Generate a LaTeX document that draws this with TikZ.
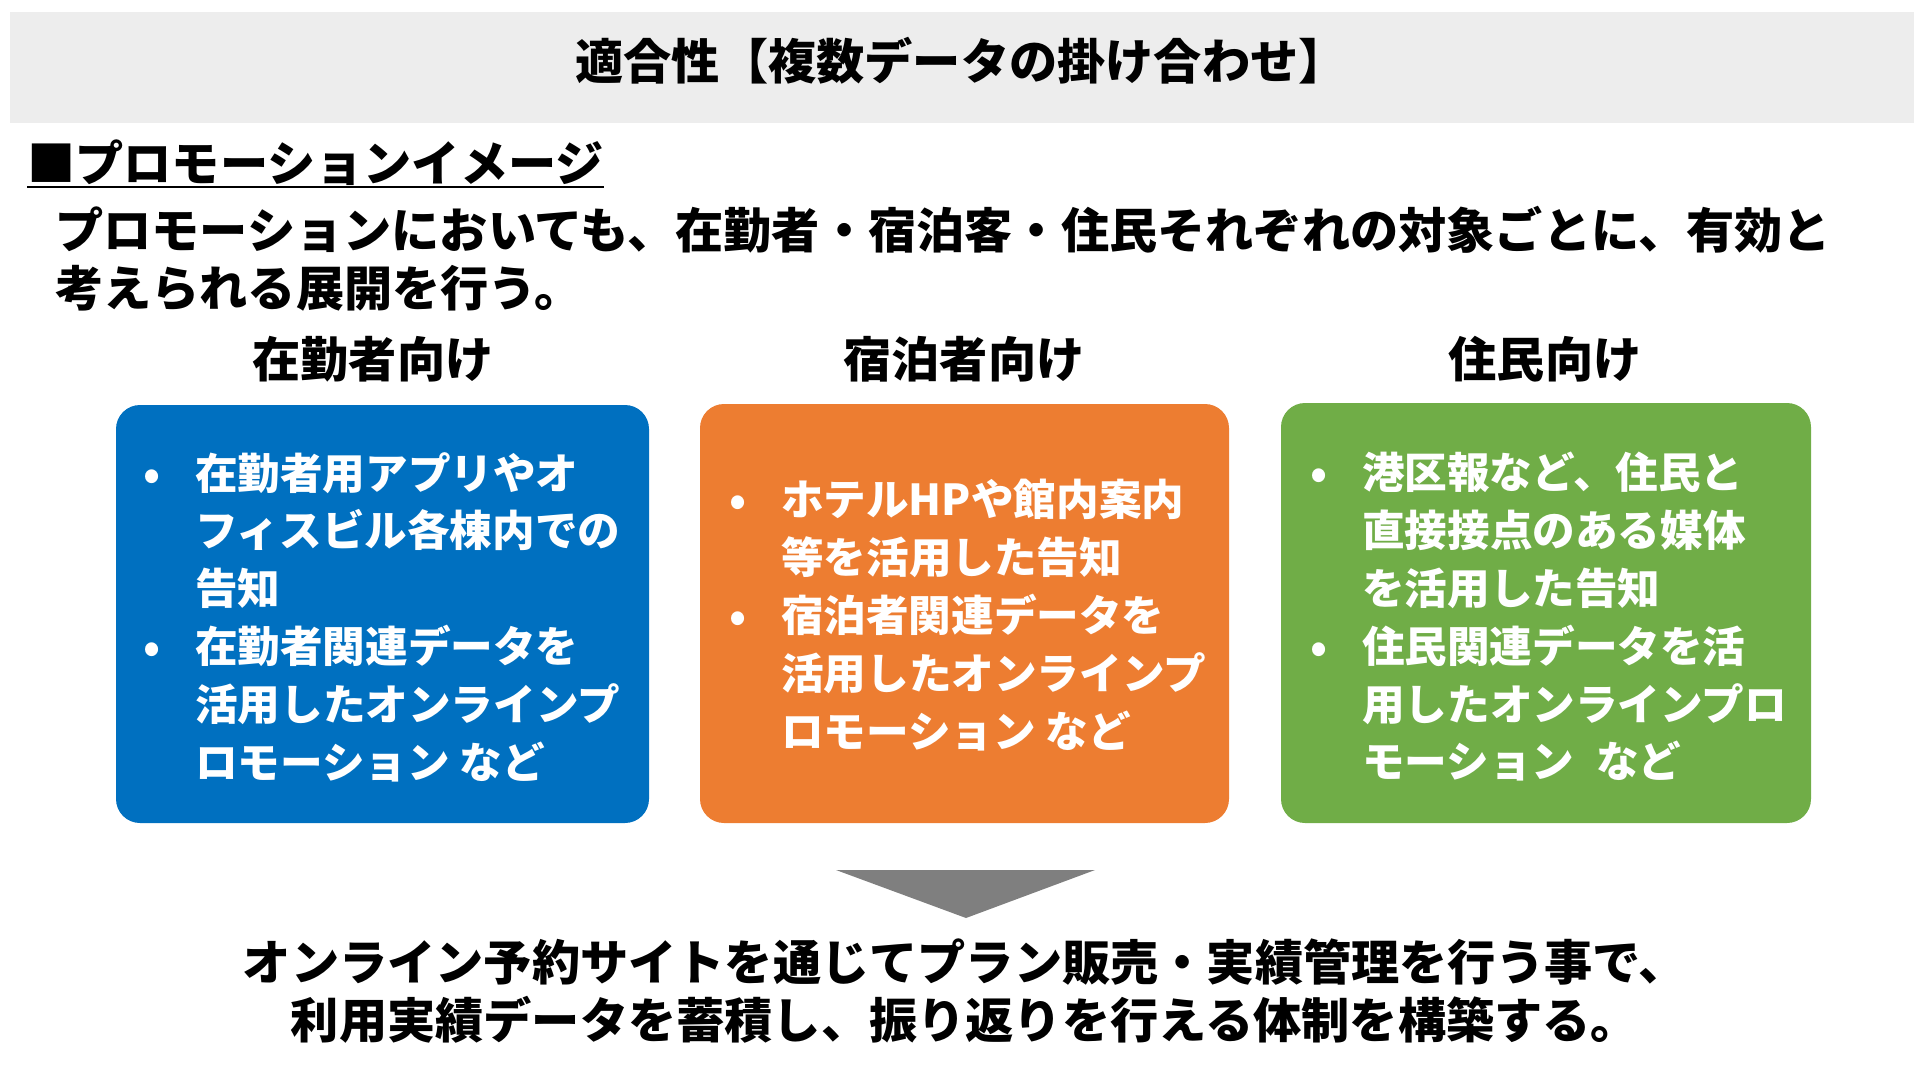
\documentclass[tikz,border=0pt]{standalone}
\usepackage{fontspec}
\setmainfont{Noto Sans CJK JP}
\definecolor{barGray}{HTML}{EDEDED}
\definecolor{boxBlue}{HTML}{0070C0}
\definecolor{boxOrange}{HTML}{ED7D31}
\definecolor{boxGreen}{HTML}{70AD47}
\definecolor{arrowGray}{HTML}{7F7F7F}
\newcommand{\bul}{\makebox[52pt][l]{•}}
\newcommand{\ind}{\hspace*{52pt}}
\tikzset{
    bigtext/.style={inner sep=0pt, font=\bfseries\fontsize{48.2}{58.5}\selectfont},
    boxtext/.style={inner sep=0pt, anchor=west, align=left, text=white, font=\bfseries\fontsize{42.6}{57.8}\selectfont},
    panel/.style={rounded corners=24pt}
}
\begin{document}
\begin{tikzpicture}[x=1pt,y=-1pt]
    \useasboundingbox (0,0) rectangle (1920,1080);
    \fill[barGray] (10,12) rectangle (1914,123);
    \node[bigtext] (title) at (961,61) {適合性【複数データの掛け合わせ】};
    \node[bigtext, anchor=west] (head) at (27,163) {■プロモーションイメージ};
    \draw[line width=2.5pt] (head.west |- 0,187) -- (head.east |- 0,187);
    \node[bigtext, anchor=west, align=left] (lead) at (55,258.5) {プロモーションにおいても、在勤者・宿泊客・住民それぞれの対象ごとに、有効と\\考えられる展開を行う。};
    \node[bigtext] (workT) at (373,359) {在勤者向け};
    \node[bigtext] (stayT) at (964,359) {宿泊者向け};
    \node[bigtext] (liveT) at (1545,359) {住民向け};
    \fill[panel, boxBlue] (116,405) rectangle (649,823);
    \fill[panel, boxOrange] (700,404) rectangle (1229,823);
    \fill[panel, boxGreen] (1281,403) rectangle (1811,823);
    \node[boxtext] (workB) at (143,617) {\bul 在勤者用アプリやオ\\\ind フィスビル各棟内での\\\ind 告知\\\bul 在勤者関連データを\\\ind 活用したオンラインプ\\\ind ロモーション など};
    \node[boxtext] (stayB) at (729,615) {\bul ホテルHPや館内案内\\\ind 等を活用した告知\\\bul 宿泊者関連データを\\\ind 活用したオンラインプ\\\ind ロモーション など};
    \node[boxtext] (liveB) at (1310,617) {\bul 港区報など、住民と\\\ind 直接接点のある媒体\\\ind を活用した告知\\\bul 住民関連データを活\\\ind 用したオンラインプロ\\\ind モーション\hspace{22pt}など};
    \fill[arrowGray] (836,870) -- (1095,870) -- (966,918) -- cycle;
    \node[bigtext, align=center] (result) at (965,991) {オンライン予約サイトを通じてプラン販売・実績管理を行う事で、\\利用実績データを蓄積し、振り返りを行える体制を構築する。};
\end{tikzpicture}
\end{document}
